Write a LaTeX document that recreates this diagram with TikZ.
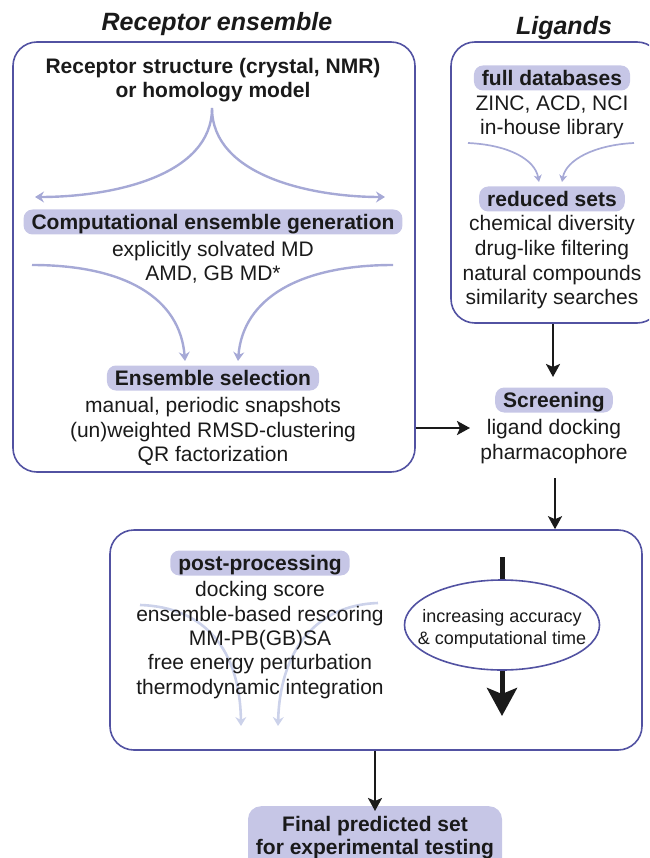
\documentclass[tikz,border=0pt]{standalone}
\usepackage{fontspec}
\setmainfont{Liberation Sans}
\usetikzlibrary{arrows.meta,shapes.geometric}
\definecolor{boxblue}{HTML}{5252A2}
\definecolor{pillfill}{HTML}{C6C6E6}
\definecolor{lightarr}{HTML}{A6A9D6}
\definecolor{faintarr}{HTML}{CCD2EA}
\definecolor{ink}{HTML}{1A1A1A}
\begin{document}
\begin{tikzpicture}[x=1pt,y=-1pt,
  frame/.style={draw=boxblue,line width=1.6pt,rounded corners=24pt,rectangle,inner sep=0pt},
  pill/.style={fill=pillfill,rounded corners=9pt,text=ink,font=\fontsize{21}{24}\selectfont\bfseries,text height=16pt,text depth=1pt,inner xsep=8pt,inner ysep=4pt},
  txt/.style={anchor=base,text=ink,font=\fontsize{21}{24}\selectfont,inner sep=0pt},
  btxt/.style={anchor=base,text=ink,font=\fontsize{21}{24}\selectfont\bfseries,inner sep=0pt},
  etxt/.style={anchor=base,text=ink,font=\fontsize{18}{21}\selectfont,inner sep=0pt},
  ttl/.style={anchor=base,text=ink,font=\fontsize{25}{30}\selectfont\bfseries\itshape,inner sep=0pt},
  larr/.style={draw=lightarr,line width=2.4pt,-{Stealth[length=9pt,width=11pt,inset=3pt]}},
  sarr/.style={draw=lightarr,line width=1.7pt,-{Stealth[length=7pt,width=8pt,inset=2pt]}},
  farr/.style={draw=faintarr,line width=2.6pt,-{Stealth[length=9pt,width=11pt,inset=3pt]}},
  barr/.style={draw=ink,line width=2.4pt,-{Stealth[length=13pt,width=14pt,inset=3pt]}}
]
\useasboundingbox (0,0) rectangle (649,858);
\clip (0,0) rectangle (649,858);

% titles
\node[ttl] (t1) at (217,31) {Receptor ensemble};
\node[ttl] (t2) at (564,35) {Ligands};

% frames
\node[frame,minimum width=402pt,minimum height=430pt] (recbox) at (214,257) {};
\node[frame,minimum width=210pt,minimum height=281pt] (ligbox) at (556,182.5) {};
\node[frame,minimum width=532pt,minimum height=220pt] (postbox) at (376,640) {};

% ---------- receptor ensemble ----------
\node[btxt] (r1) at (213,73.5) {Receptor structure (crystal, NMR)};
\node[btxt] (r2) at (213,97.5) {or homology model};

\coordinate (cusp) at (212,108);
\coordinate (ul) at (35,197);
\coordinate (ur) at (385,197);
\draw[larr] (cusp) .. controls (212,176) and (112,197) .. (ul);
\draw[larr] (cusp) .. controls (212,176) and (312,197) .. (ur);

\node[pill] (gen) at (213,222) {Computational ensemble generation};
\node[txt] (g1) at (213,256.5) {explicitly solvated MD};
\node[txt] (g2) at (213,280.5) {AMD, GB MD*};

\coordinate (ll) at (32,265);
\coordinate (lr) at (393,265);
\coordinate (tl) at (185,361);
\coordinate (tr) at (238,361);
\draw[larr] (ll) .. controls (125,265) and (180,298) .. (tl);
\draw[larr] (lr) .. controls (300,265) and (243,298) .. (tr);

\node[pill] (sel) at (213,378) {Ensemble selection};
\node[txt] (s1) at (213,412.5) {manual, periodic snapshots};
\node[txt] (s2) at (213,437) {(un)weighted RMSD-clustering};
\node[txt] (s3) at (213,461) {QR factorization};

% ---------- ligands ----------
\node[pill] (full) at (552,78) {full databases};
\node[txt] (f1) at (552,110.5) {ZINC, ACD, NCI};
\node[txt] (f2) at (552,134.5) {in-house library};

\coordinate (al) at (468,143);
\coordinate (ar) at (634,143);
\coordinate (bl) at (539,182);
\coordinate (br) at (562,182);
\draw[sarr] (al) .. controls (510,145) and (535,160) .. (bl);
\draw[sarr] (ar) .. controls (594,145) and (566,160) .. (br);

\node[pill] (red) at (552,199) {reduced sets};
\node[txt] (d1) at (552,231) {chemical diversity};
\node[txt] (d2) at (552,255.5) {drug-like filtering};
\node[txt] (d3) at (552,280) {natural compounds};
\node[txt] (d4) at (552,304.5) {similarity searches};

% ---------- screening ----------
\node[pill] (scr) at (554,400) {Screening};
\node[txt] (c1) at (554,434.5) {ligand docking};
\node[txt] (c2) at (554,459) {pharmacophore};

\coordinate (lig2scr) at (553,377);
\draw[barr] (ligbox.south -| lig2scr) -- (lig2scr);
\coordinate (rec2scr) at (470,428);
\draw[barr] (recbox.east |- rec2scr) -- (rec2scr);
\coordinate (scrout) at (555,478);
\draw[barr] (scrout) -- (scrout |- postbox.north);

% ---------- post-processing ----------
\coordinate (pl) at (140,605);
\coordinate (pr) at (378,603);
\coordinate (ptl) at (241,726);
\coordinate (ptr) at (278,726);
\draw[farr] (pl) .. controls (205,607) and (240,650) .. (ptl);
\draw[farr] (pr) .. controls (316,605) and (280,650) .. (ptr);

\node[pill] (post) at (260,563) {post-processing};
\node[txt] (p1) at (260,596.5) {docking score};
\node[txt] (p2) at (260,621) {ensemble-based rescoring};
\node[txt] (p3) at (260,645) {MM-PB(GB)SA};
\node[txt] (p4) at (260,669.5) {free energy perturbation};
\node[txt] (p5) at (260,694) {thermodynamic integration};

\node[ellipse,draw=boxblue,line width=1.6pt,fill=white,minimum width=195pt,minimum height=90pt,inner sep=0pt] (ell) at (502,625) {};
\node[etxt] (e1) at (502,622) {increasing accuracy};
\node[etxt] (e2) at (502,644) {\& computational time};
\coordinate (thtop) at (502,557);
\coordinate (thbot) at (502,716);
\draw[draw=ink,line width=5pt] (thtop) -- (ell.north);
\draw[draw=ink,line width=5pt,-{Stealth[length=28pt,width=30pt,inset=6pt]}] (ell.south) -- (thbot);

% ---------- final ----------
\node[fill=pillfill,rounded corners=13pt,minimum width=254pt,minimum height=80pt,anchor=north,inner sep=0pt] (final) at (375,806) {};
\node[btxt] (fn1) at (375,831) {Final predicted set};
\node[btxt] (fn2) at (375,854) {for experimental testing};
\draw[barr] (postbox.south -| final) -- ([yshift=-5pt]final.north);
\end{tikzpicture}
\end{document}
